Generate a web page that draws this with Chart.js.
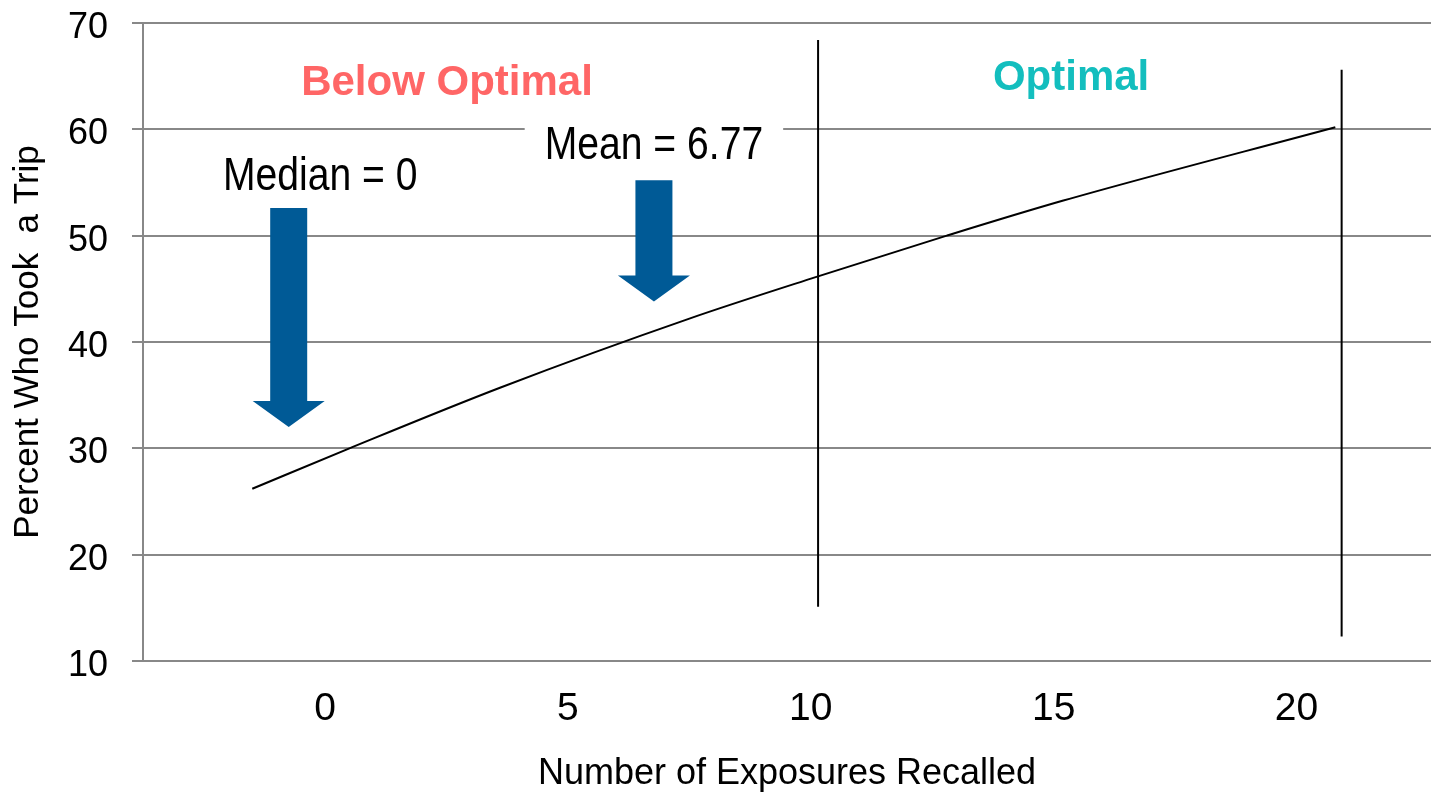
<!DOCTYPE html>
<html>
<head>
<meta charset="utf-8">
<script src="https://cdn.jsdelivr.net/npm/chart.js@4"></script>
<style>
  body { margin: 0; background: #fff; }
  #chart { display: block; }
</style>
</head>
<body>
<canvas id="chart" width="1431" height="796"></canvas>
<script>
// trend of trips vs exposures
const curve_x = [-1.5, 0.5, 3.6, 7.5, 10.1, 12.8, 15.2, 20.8];
const curve_y = [26.2, 30.0, 35.7, 42.2, 46.1, 50.0, 53.3, 60.2];

const x_ticks = [0, 5, 10, 15, 20];
const y_ticks = [10, 20, 30, 40, 50, 60, 70];

// vertical dividers
const divider_x = [10.15, 20.93];
const divider_top = [68.4, 65.6];
const divider_bottom = [15.1, 12.3];

// blue arrows
const arrow_x = [-0.75, 6.77];
const arrow_top = [52.6, 55.2];
const arrow_tip = [32.0, 43.8];

// labels above the arrows
const note_text = ['Median = 0', 'Mean = 6.77'];
const note_x = [-0.1, 6.77];
const note_y = [55.5, 58.4];

// zone headings
const zone_text = ['Below Optimal', 'Optimal'];
const zone_x = [2.51, 15.36];
const zone_y = [64.3, 64.8];
const zone_color = ['#ff6666', '#13bebe'];

const font_family = '"Liberation Sans", Arial, sans-serif';

const annotations = {
    id: 'annotations',
    afterDatasetsDraw(chart) {
        const ctx = chart.ctx;
        const x = chart.scales.x;
        const y = chart.scales.y;
        ctx.save();

        // arrows
        ctx.fillStyle = '#005a96';
        for (let i = 0; i < arrow_x.length; i++) {
            const cx = x.getPixelForValue(arrow_x[i]);
            const top = y.getPixelForValue(arrow_top[i]);
            const tip = y.getPixelForValue(arrow_tip[i]);
            const head = 26;
            ctx.beginPath();
            ctx.moveTo(cx - 18.5, top);
            ctx.lineTo(cx + 18.5, top);
            ctx.lineTo(cx + 18.5, tip - head);
            ctx.lineTo(cx + 36, tip - head);
            ctx.lineTo(cx, tip);
            ctx.lineTo(cx - 36, tip - head);
            ctx.lineTo(cx - 18.5, tip - head);
            ctx.closePath();
            ctx.fill();
        }

        // notes, a bit condensed like the original
        ctx.font = '46px ' + font_family;
        ctx.textAlign = 'center';
        ctx.textBaseline = 'middle';
        const squeeze = 0.85;
        for (let i = 0; i < note_text.length; i++) {
            const px = x.getPixelForValue(note_x[i]);
            const py = y.getPixelForValue(note_y[i]);
            const w = ctx.measureText(note_text[i]).width * squeeze;
            ctx.fillStyle = '#fff';
            ctx.fillRect(px - w / 2 - 20, py - 26, w + 40, 52);
            ctx.fillStyle = '#000';
            ctx.save();
            ctx.translate(px, py);
            ctx.scale(squeeze, 1);
            ctx.fillText(note_text[i], 0, 0);
            ctx.restore();
        }

        // zone headings
        ctx.font = 'bold 42px ' + font_family;
        for (let i = 0; i < zone_text.length; i++) {
            ctx.fillStyle = zone_color[i];
            ctx.fillText(zone_text[i], x.getPixelForValue(zone_x[i]), y.getPixelForValue(zone_y[i]));
        }
        ctx.restore();
    }
};

const datasets = [{
    data: curve_x.map((v, i) => ({ x: v, y: curve_y[i] })),
    borderColor: '#000',
    borderWidth: 2,
    pointRadius: 0,
    cubicInterpolationMode: 'monotone',
    fill: false
}];
divider_x.forEach((v, i) => {
    datasets.push({
        data: [{ x: v, y: divider_top[i] }, { x: v, y: divider_bottom[i] }],
        borderColor: '#000',
        borderWidth: 2,
        pointRadius: 0,
        fill: false
    });
});

new Chart(document.getElementById('chart').getContext('2d'), {
    type: 'line',
    data: { datasets: datasets },
    options: {
        responsive: false,
        animation: false,
        devicePixelRatio: 1,
        layout: { padding: { top: 23, right: 0, bottom: 0, left: 0 } },
        plugins: {
            legend: { display: false },
            tooltip: { enabled: false }
        },
        scales: {
            x: {
                type: 'linear',
                min: -3.75,
                max: 22.77,
                afterBuildTicks: (s) => { s.ticks = x_ticks.map((v) => ({ value: v })); },
                afterFit: (s) => { s.height = 135; s.paddingLeft = 0; s.paddingRight = 0; },
                grid: { display: false, drawTicks: false },
                border: { display: false },
                ticks: {
                    color: '#000',
                    padding: 25,
                    font: { family: font_family, size: 39 }
                },
                title: {
                    display: true,
                    text: 'Number of Exposures Recalled',
                    color: '#000',
                    padding: 0,
                    font: { family: font_family, size: 36 }
                }
            },
            y: {
                min: 10,
                max: 70,
                afterBuildTicks: (s) => { s.ticks = y_ticks.map((v) => ({ value: v })); },
                afterFit: (s) => { s.width = 143; s.paddingTop = 0; s.paddingBottom = 0; },
                grid: { color: '#888', lineWidth: 2, tickLength: 11 },
                border: { color: '#888', width: 2 },
                ticks: {
                    color: '#000',
                    padding: 24,
                    labelOffset: 5,
                    font: { family: font_family, size: 36 }
                },
                title: {
                    display: true,
                    text: 'Percent Who Took  a Trip',
                    color: '#000',
                    padding: { top: 7, bottom: 0 },
                    font: { family: font_family, size: 35 }
                }
            }
        }
    },
    plugins: [annotations]
});
</script>
</body>
</html>
